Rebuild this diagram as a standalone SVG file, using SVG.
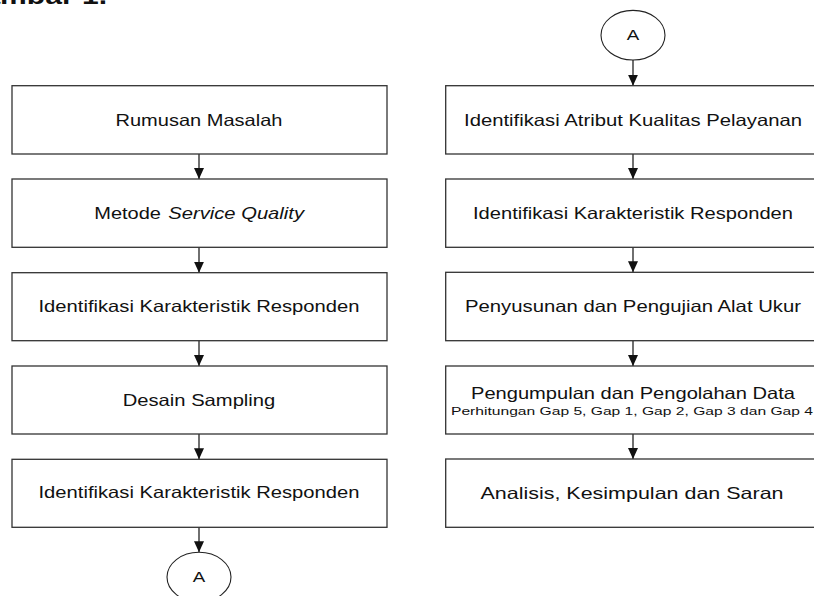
<svg xmlns="http://www.w3.org/2000/svg" width="814" height="596" viewBox="0 0 814 596">
<defs>
<marker id="arr" markerUnits="userSpaceOnUse" markerWidth="12" markerHeight="10" refX="11" refY="5" orient="auto">
<path d="M0,0 L11,5 L0,10 Z" fill="#111"/>
</marker>
<style>
.box{fill:#fff;stroke:#333;stroke-width:1.3}
.t{font-family:"Liberation Sans",Arial,sans-serif;font-size:16.5px;fill:#111;text-anchor:middle}
.s{font-family:"Liberation Sans",Arial,sans-serif;font-size:11.5px;fill:#111;text-anchor:middle}
.c{fill:#fff;stroke:#222;stroke-width:1.1}
.ct{font-family:"Liberation Sans",Arial,sans-serif;font-size:14px;fill:#111;text-anchor:middle}
.e{stroke:#222;stroke-width:1.3;fill:none;marker-end:url(#arr)}
</style>
</defs>
<rect width="814" height="596" fill="#fff"/>
<text x="-40" y="4" font-family="Liberation Sans,Arial,sans-serif" font-weight="bold" font-size="24" fill="#111" textLength="147" lengthAdjust="spacingAndGlyphs">Gambar 1.</text>

<g id="edges">
<line class="e" x1="199" y1="154" x2="199" y2="179"/>
<line class="e" x1="199" y1="247.3" x2="199" y2="272.7"/>
<line class="e" x1="199" y1="340.7" x2="199" y2="366"/>
<line class="e" x1="199" y1="434" x2="199" y2="459.3"/>
<line class="e" x1="199" y1="527.3" x2="199" y2="552.3"/>
<line class="e" x1="633" y1="60" x2="633" y2="85.7"/>
<line class="e" x1="633" y1="154" x2="633" y2="179"/>
<line class="e" x1="633" y1="247.3" x2="633" y2="272.3"/>
<line class="e" x1="633" y1="340.7" x2="633" y2="366"/>
<line class="e" x1="633" y1="434" x2="633" y2="459"/>
</g>

<g id="L1"><rect class="box" x="12" y="85.7" width="375" height="68.3"/>
<text class="t" x="199" y="125.7" textLength="167" lengthAdjust="spacingAndGlyphs">Rumusan Masalah</text></g>
<g id="L2"><rect class="box" x="12" y="179" width="375" height="68.3"/>
<text x="94.3" y="218.5" font-family="Liberation Sans,Arial,sans-serif" font-size="16.5" fill="#111" textLength="66.7" lengthAdjust="spacingAndGlyphs">Metode</text>
<text x="168.3" y="218.5" font-family="Liberation Sans,Arial,sans-serif" font-size="16.5" font-style="italic" fill="#111" textLength="135.7" lengthAdjust="spacingAndGlyphs">Service Quality</text></g>
<g id="L3"><rect class="box" x="12" y="272.7" width="375" height="68"/>
<text class="t" x="199" y="312.3" textLength="321" lengthAdjust="spacingAndGlyphs">Identifikasi Karakteristik Responden</text></g>
<g id="L4"><rect class="box" x="12" y="366" width="375" height="68"/>
<text class="t" x="199" y="405.7" textLength="152.6" lengthAdjust="spacingAndGlyphs">Desain Sampling</text></g>
<g id="L5"><rect class="box" x="12" y="459.3" width="375" height="68"/>
<text class="t" x="199" y="498.3" textLength="321" lengthAdjust="spacingAndGlyphs">Identifikasi Karakteristik Responden</text></g>
<g id="LA"><ellipse class="c" cx="199" cy="577.1" rx="32" ry="24.8"/>
<text class="ct" x="199" y="581.7" textLength="12.5" lengthAdjust="spacingAndGlyphs">A</text></g>

<g id="RA"><ellipse class="c" cx="633" cy="35.2" rx="32" ry="24.8"/>
<text class="ct" x="633" y="39.5" textLength="12.5" lengthAdjust="spacingAndGlyphs">A</text></g>
<g id="R1"><rect class="box" x="445.7" y="85.7" width="375" height="68.3"/>
<text class="t" x="633" y="125.5" textLength="338" lengthAdjust="spacingAndGlyphs">Identifikasi Atribut Kualitas Pelayanan</text></g>
<g id="R2"><rect class="box" x="445.7" y="179" width="375" height="68.3"/>
<text class="t" x="633" y="218.5" textLength="320" lengthAdjust="spacingAndGlyphs">Identifikasi Karakteristik Responden</text></g>
<g id="R3"><rect class="box" x="445.7" y="272.3" width="375" height="68.4"/>
<text class="t" x="633" y="312" textLength="336" lengthAdjust="spacingAndGlyphs">Penyusunan dan Pengujian Alat Ukur</text></g>
<g id="R4"><rect class="box" x="445.7" y="366" width="375" height="68"/>
<text class="t" x="633" y="398.8" textLength="324" lengthAdjust="spacingAndGlyphs">Pengumpulan dan Pengolahan Data</text>
<text class="s" x="632" y="414.5" textLength="362" lengthAdjust="spacingAndGlyphs">Perhitungan Gap 5, Gap 1, Gap 2, Gap 3 dan Gap 4</text></g>
<g id="R5"><rect class="box" x="445.7" y="459" width="375" height="68.3"/>
<text class="t" x="632" y="498.5" textLength="303" lengthAdjust="spacingAndGlyphs">Analisis, Kesimpulan dan Saran</text></g>
</svg>
